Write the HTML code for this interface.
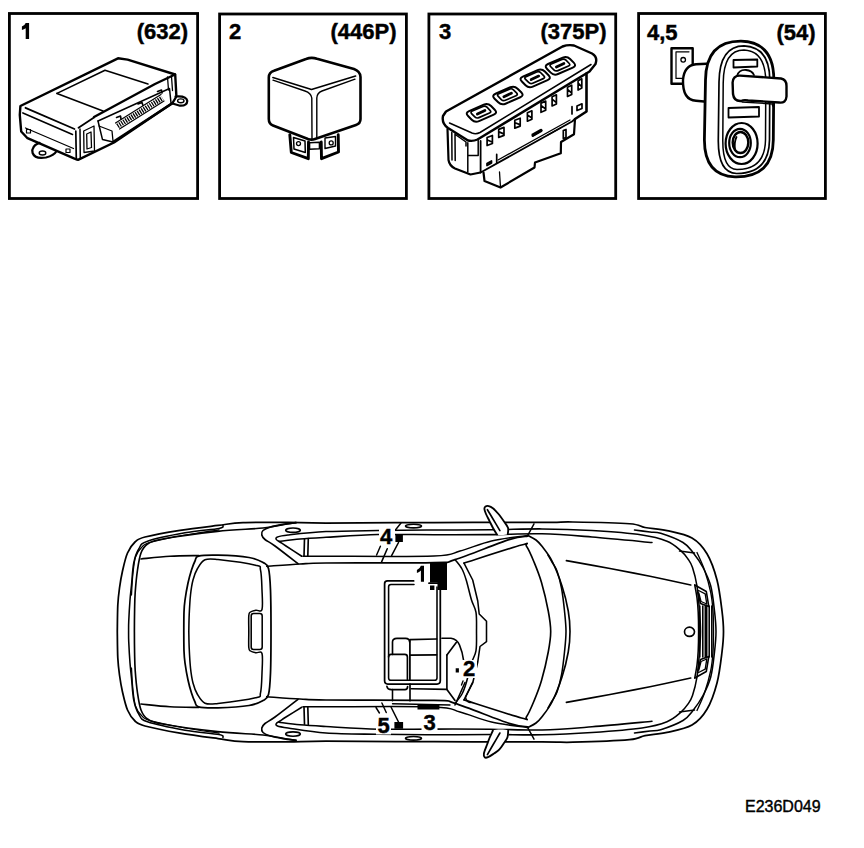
<!DOCTYPE html>
<html><head><meta charset="utf-8">
<style>
html,body{margin:0;padding:0;background:#fff;width:864px;height:848px;overflow:hidden}
svg{display:block}
.lb{font-family:"Liberation Sans",sans-serif;font-weight:bold;font-size:22px;fill:#000;stroke:#000;stroke-width:0.45px}
.cl{font-family:"Liberation Sans",sans-serif;font-weight:bold;font-size:22px;fill:#000;stroke:#000;stroke-width:0.45px}
.ft{font-family:"Liberation Sans",sans-serif;font-size:16px;fill:#000;stroke:#000;stroke-width:0.4px}
</style></head><body>
<svg width="864" height="848" viewBox="0 0 864 848">
<g fill="none" stroke="#000" stroke-width="2.8">
<rect x="9.4" y="13.5" width="188.2" height="185"/>
<rect x="219.6" y="14" width="186.8" height="184.5"/>
<rect x="428.9" y="14" width="186.8" height="184.5"/>
<rect x="638.6" y="13.5" width="186.8" height="185"/>
</g>
<path fill="#000" d="M25.7,23 L29.1,23 L29.1,38.9 L25.7,38.9 L25.7,28.3 Q24,29.5 21.9,29.9 L21.9,26.4 Q24.8,25.4 25.7,23 Z"/>
<text class="lb" x="188" y="38.9" text-anchor="end">(632)</text>
<text class="lb" x="229" y="38.9">2</text>
<text class="lb" x="396.5" y="38.9" text-anchor="end">(446P)</text>
<text class="lb" x="439" y="38.9">3</text>
<text class="lb" x="606.5" y="38.9" text-anchor="end">(375P)</text>
<text class="lb" x="647" y="39.9">4,5</text>
<text class="lb" x="815.5" y="39.9" text-anchor="end">(54)</text>
<g fill="none" stroke="#000" stroke-linejoin="round" stroke-linecap="round">
<!-- ===== ECU (box 1) ===== -->
<path stroke-width="2.4" d="M20.4,106 L118,58.3 L127.6,59.6 L175.2,74.5 L176.4,96.5 L172.5,103 L114,142.5 L78,159.8 L74.5,158.6 L27.5,138.2 L21.2,131.5 L19.8,115 Z"/>
<!-- right tab -->
<path stroke-width="2.2" d="M175.5,96.5 Q186.5,95.5 187.3,101 Q187,106 180,105.7 L172.5,103.5"/>
<ellipse cx="180.8" cy="100.8" rx="3.2" ry="1.9" stroke-width="1.4"/>
<!-- left tab -->
<path stroke-width="2.2" d="M39.5,142.8 Q31,146 32.6,153 Q35,159.5 46,157.5 Q54,155.5 56.5,151.3"/>
<ellipse cx="42.5" cy="153" rx="3.3" ry="2" stroke-width="1.4"/>
<!-- top face front edge -->
<path stroke-width="1.8" d="M25.5,107.8 L74.5,129 M78.5,127.8 L94,117.5"/>
<path stroke-width="1.6" d="M22.9,112.9 L72.5,134.5"/>
<!-- label panel -->
<path stroke-width="1.6" d="M57,93.4 L105,70.3 L148,84"/>
<path stroke-width="1.6" d="M57,93.4 L103,111"/>
<!-- vertical front edge -->
<path stroke-width="1.7" d="M75.8,131 L76.3,159.5"/>
<path stroke-width="1.5" d="M80,129 L80.3,158.5"/>
<!-- left face inner lines -->
<path stroke-width="1.3" d="M25.5,128 L73.5,148.5"/>
<rect x="26.5" y="129.5" width="4" height="3.5" stroke-width="1.2"/>
<rect x="66" y="149" width="4" height="3.5" stroke-width="1.2"/>
<!-- connector block -->
<path stroke-width="2.4" d="M94,117 L155,84 L175,74.5"/>
<path stroke-width="1.5" d="M98,121 L169.5,88.5 L171,103"/>
<path stroke-width="1.5" d="M98,121 L102.5,139.6 L113,142"/>
<path stroke-width="2.6" d="M113,142 L172,103.5"/>
<path stroke-width="1.3" d="M99,126 L112,131 L113,141"/>
<path stroke-width="1.3" d="M83.7,131 L94,126 L94.5,151 L84,152.5 Z"/>
<path stroke-width="1.3" d="M86.7,134 L91,132 L91.5,147.5 L87,149 Z"/>
<path stroke-width="1.3" d="M167.5,77 L168.5,90 M171.5,76.5 L172.5,90.5"/>
<path stroke-width="5" stroke-dasharray="1.3 1.1" stroke-linecap="butt" d="M117.5,126 L162.5,98"/>
<path stroke-width="1.2" d="M115.5,123 L161,94.5 M119.5,129 L164,101"/>
<path stroke-width="1.6" d="M116.5,117.5 L120.5,116 L121,119 M138,104 L142,102.5 L143,105.5 M157.5,91.5 L161.5,90 L162,93"/>
<!-- ===== RELAY (box 2) ===== -->
<path stroke-width="2.6" d="M306,59 Q311.5,56.8 317,58.8 L354,69 Q360.5,71.5 360.5,77 L360.5,119 Q360.5,123.5 356,125 L315,139 Q311.5,140.2 308,139 L273,125.5 Q268.8,123.8 268.8,119 L268.8,77.5 Q268.8,72.5 274,70.8 Z"/>
<path stroke-width="1.6" d="M272.9,77.5 L311.5,89.5 L355.6,76"/>
<path stroke-width="1.4" d="M273,80.2 L305,91 Q311,93 311.8,98 L312,138.5"/>
<path stroke-width="1.4" d="M355,79.2 L322,91 Q317,93 316.8,98 L316.8,138.5"/>
<path stroke-width="2.9" d="M289.8,134.6 L291.3,152.5 L308.3,158.7 L308.5,142"/>
<path stroke-width="1.5" d="M293.5,137.5 L305,141 L305.3,152.5 L294,149 Z"/>
<circle cx="298.5" cy="143.6" r="2" stroke-width="1.3"/>
<path stroke-width="2.9" d="M321.2,142 L321.5,158.7 L338.5,152 L338.2,134.8"/>
<path stroke-width="1.4" d="M325,148.5 L325,138 L335.5,136.5 L335.5,146 Z"/>
<circle cx="331.2" cy="142.9" r="2" stroke-width="1.3"/>
<path stroke-width="1.6" d="M309.5,142.8 L319.5,142.2 L319.5,148.8 L309.5,149.2 Z"/>
<!-- ===== SWITCH (box 3) ===== -->
<path stroke-width="2.4" d="M446,111.5 L562.5,46.5 Q568,44.5 574,45.5 L592,53.5 Q598,57 595.5,64 L589.5,71.5 L477.5,139.5 Q473,141.5 468,140.5 L448,128 Q441.5,123.5 443,116 Z"/>
<path stroke-width="1.5" d="M449.5,123 L472,133 Q476,134.5 480,132.5 L591,64.5"/>
<!-- buttons -->
<path stroke-width="2" d="M469.03,111.06 L483.77,104.64 Q487.90,102.85 491.08,106.03 L494.72,109.67 Q497.90,112.85 493.77,114.64 L479.03,121.06 Q474.90,122.85 471.72,119.67 L468.08,116.03 Q464.90,112.85 469.03,111.06 Z"/>
<path stroke-width="1.7" d="M472.30,111.05 L482.90,106.45 Q485.19,105.45 486.96,107.22 L490.02,110.28 Q491.79,112.05 489.50,113.05 L478.90,117.65 Q476.61,118.65 474.84,116.88 L471.78,113.82 Q470.01,112.05 472.30,111.05 Z"/>
<path stroke-width="2.8" d="M477.40,114.05 L484.90,110.55"/>
<path stroke-width="2" d="M495.53,93.71 L510.27,87.29 Q514.40,85.50 517.58,88.68 L521.22,92.32 Q524.40,95.50 520.27,97.29 L505.53,103.71 Q501.40,105.50 498.22,102.32 L494.58,98.68 Q491.40,95.50 495.53,93.71 Z"/>
<path stroke-width="1.7" d="M498.80,93.70 L509.40,89.10 Q511.69,88.10 513.46,89.87 L516.52,92.93 Q518.29,94.70 516.00,95.70 L505.40,100.30 Q503.11,101.30 501.34,99.53 L498.28,96.47 Q496.51,94.70 498.80,93.70 Z"/>
<path stroke-width="2.8" d="M503.90,96.70 L511.40,93.20"/>
<path stroke-width="2" d="M522.83,76.61 L537.57,70.19 Q541.70,68.40 544.88,71.58 L548.52,75.22 Q551.70,78.40 547.57,80.19 L532.83,86.61 Q528.70,88.40 525.52,85.22 L521.88,81.58 Q518.70,78.40 522.83,76.61 Z"/>
<path stroke-width="1.7" d="M526.10,76.60 L536.70,72.00 Q538.99,71.00 540.76,72.77 L543.82,75.83 Q545.59,77.60 543.30,78.60 L532.70,83.20 Q530.41,84.20 528.64,82.43 L525.58,79.37 Q523.81,77.60 526.10,76.60 Z"/>
<path stroke-width="2.8" d="M531.20,79.60 L538.70,76.10"/>
<path stroke-width="2" d="M548.03,64.01 L562.77,57.59 Q566.90,55.80 570.08,58.98 L573.72,62.62 Q576.90,65.80 572.77,67.59 L558.03,74.01 Q553.90,75.80 550.72,72.62 L547.08,68.98 Q543.90,65.80 548.03,64.01 Z"/>
<path stroke-width="1.7" d="M551.30,64.00 L561.90,59.40 Q564.19,58.40 565.96,60.17 L569.02,63.23 Q570.79,65.00 568.50,66.00 L557.90,70.60 Q555.61,71.60 553.84,69.83 L550.78,66.77 Q549.01,65.00 551.30,64.00 Z"/>
<path stroke-width="2.8" d="M556.40,67.00 L563.90,63.50"/>
<!-- body -->
<path stroke-width="2.2" d="M447.5,129 L448.5,160 Q449.5,166 455,168.5 L470.5,174.5 L480.5,172.5"/>
<path stroke-width="1.8" d="M480.6,141 L480.6,172.5 L572,121.5 L575,119"/>
<path stroke-width="2.6" d="M575,119 L586.5,111.5 L586.5,73.5"/>
<path stroke-width="2.2" d="M483.5,172.5 L484.5,181 L500.5,187.5 L534.5,167.5 L535,162.5 L560.8,153.2 L561,142 L574,134.3 L575,119"/>
<path stroke-width="1.3" d="M500.5,187.5 L499.5,172"/>
<path stroke-width="1.5" d="M451.8,132.5 L452,160 M455,134 L455.2,160.5 M456,135 L466,142 L466,146"/>
<path stroke-width="1.5" d="M467.8,142.8 L467.8,172 M467.8,155.5 L478.2,155.5 L478.2,140.5"/>
<path stroke-width="1.3" d="M498,160 L570,120 M547,135.5 L560.5,128"/>
<!-- slots -->
<g stroke-width="1.7">
<path d="M487.1,137.5 L492.4,135.5 L492.4,143.5 L487.1,145.5 Z M487.4,140.0 L492.1,142.0"/>
<path d="M498.7,129.4 L504.0,127.4 L504.0,135.4 L498.7,137.4 Z M499.0,131.9 L503.7,133.9"/>
<path d="M514.8,120.2 L520.2,118.2 L520.2,126.1 L514.8,128.1 Z M515.1,122.7 L519.9,124.6"/>
<path d="M527.4,112.8 L531.9,110.8 L531.9,119.2 L527.4,121.2 Z M527.7,115.3 L531.6,117.7"/>
<path d="M541.0,103.1 L545.7,101.1 L545.7,110.3 L541.0,112.3 Z M541.3,105.6 L545.4,108.8"/>
<path d="M552.1,96.8 L556.4,94.8 L556.4,103.9 L552.1,105.9 Z M552.4,99.3 L556.1,102.4"/>
<path d="M567.5,87.2 L571.7,85.2 L571.7,94.4 L567.5,96.4 Z M567.8,89.7 L571.4,92.9"/>
<path d="M578.1,80.8 L581.8,78.8 L581.8,88.0 L578.1,90.0 Z M578.4,83.3 L581.5,86.5"/>
<path d="M532.5,136 L541.5,130.5"/>
<path stroke-width="3.2" d="M533,135 L541,130.5"/>
<path d="M563.3,130.5 L566,129.5 L566,137.5 L563.3,138.5 Z"/>
<path d="M577,106 L582,103.8 L582,108.5 L577,110.5 Z"/>
<path d="M487,163.5 L491.5,161 L491.5,163 L487,165.5 Z"/>
<path d="M572,106.7 L572,114 M496.7,154.4 L496.7,162.5"/>
</g>
<!-- ===== DOOR SWITCH (box 4) ===== -->
<!-- left tab -->
<path stroke-width="2.4" d="M692.7,64 L692.7,48.3 L671.5,48.3 L671.5,83.7 L684,83.7"/>
<path stroke-width="1.2" d="M676,51.8 L689,51.8 M676,51.8 L676,78.4 L683.5,78.4"/>
<circle cx="683.2" cy="59.8" r="2.3" stroke-width="1.3"/>
<!-- plunger -->
<path stroke-width="2.4" fill="#fff" d="M712,63.5 L696,64.2 Q684,65.5 683,80 Q682.5,100 696,100.8 L712,102.3 Z"/>
<path stroke-width="2.8" fill="#fff" d="M741,41.2 Q774,42 773.8,80 L773.3,140 Q773,177.5 735,176.8 Q704.5,176 704.4,140 L705.5,80 Q706,41 741,41.2 Z"/>
<path stroke-width="1.7" d="M744,45.8 Q770.5,47 769.8,82 L769.5,140 Q769,173.5 736.5,173.5 Q718,173 718.3,140 L719,82 Q719.5,46 744,45.8 Z"/>
<path stroke-width="1.5" d="M744,50 Q766,51 765.8,83 L765.5,140 Q765,169.5 737,169.5 Q722.5,169 722.8,140 L723.2,83 Q723.5,50 744,50 Z"/>
<!-- slots -->
<path stroke-width="1.8" d="M733.5,60 L757.3,59.5 L757.3,66.5 L733.5,67.5 Z"/>
<path stroke-width="1.8" d="M728.5,108 L759,107 L759,116.5 L728.5,117.5 Z"/>
<!-- lever -->
<path stroke-width="1.8" d="M737,76 Q739,69.5 746,70 Q752,70.5 754,75"/>
<path stroke-width="2.4" fill="#fff" d="M740,75.6 L781,78.5 Q786.5,79.5 786.5,86 L786.5,96.5 Q786,103.5 779,102.5 L748,100.5 Q744,99.5 741,101 Q734,101.5 733,94 L732.6,82.5 Q733,75.5 740,75.6 Z"/>
<path stroke-width="1.3" d="M742,102 L772.5,104 L772.5,106"/>
<!-- lock cylinder -->
<ellipse cx="741.6" cy="143.5" rx="16" ry="20.5" stroke-width="2.2"/>
<ellipse cx="740" cy="143" rx="10.8" ry="14.2" stroke-width="2.2"/>
<ellipse cx="740.5" cy="142.5" rx="7.8" ry="10.5" stroke-width="2.4"/>
<path stroke-width="1.8" d="M736.5,137 Q734,142 735,150"/>
</g>

<g fill="none" stroke="#000" stroke-linecap="round" stroke-linejoin="round">
<path d="M117.30,631.50 C117.38,627.08 117.43,612.25 117.80,605.00 C118.17,597.75 118.72,593.67 119.50,588.00 C120.28,582.33 121.17,576.83 122.50,571.00 C123.83,565.17 125.42,557.83 127.50,553.00 C129.58,548.17 132.08,544.67 135.00,542.00 C137.92,539.33 137.50,538.95 145.00,537.00 C152.50,535.05 167.83,532.23 180.00,530.30 C192.17,528.37 207.50,526.68 218.00,525.40 C228.50,524.12 231.33,523.10 243.00,522.60 C254.67,522.10 274.17,522.33 288.00,522.40 C301.83,522.47 301.67,522.98 326.00,523.00 C350.33,523.02 398.00,522.60 434.00,522.50 C470.00,522.40 518.83,522.48 542.00,522.40 C565.17,522.32 558.42,521.77 573.00,522.00 C587.58,522.23 617.50,522.83 629.50,523.75 C641.50,524.67 638.75,526.36 645.00,527.50 C651.25,528.64 659.17,528.85 667.00,530.60 C674.83,532.35 685.33,534.14 692.00,538.00 C698.67,541.86 702.83,546.75 707.00,553.75 C711.17,560.75 714.50,570.46 717.00,580.00 C719.50,589.54 720.92,602.42 722.00,611.00 C723.08,619.58 723.50,624.67 723.50,631.50 C723.50,638.33 723.08,643.42 722.00,652.00 C720.92,660.58 719.50,673.46 717.00,683.00 C714.50,692.54 711.17,702.25 707.00,709.25 C702.83,716.25 698.67,721.14 692.00,725.00 C685.33,728.86 674.83,730.64 667.00,732.40 C659.17,734.16 651.25,734.39 645.00,735.59 C638.75,736.79 641.50,738.50 629.50,739.60 C617.50,740.70 587.58,741.83 573.00,742.20 C558.42,742.57 565.17,741.88 542.00,741.80 C518.83,741.72 470.00,741.80 434.00,741.70 C398.00,741.60 350.33,741.18 326.00,741.20 C301.67,741.22 301.83,741.73 288.00,741.80 C274.17,741.87 254.67,742.13 243.00,741.60 C231.33,741.07 228.50,740.03 218.00,738.62 C207.50,737.21 192.17,735.25 180.00,733.15 C167.83,731.05 152.50,728.02 145.00,726.00 C137.50,723.98 137.92,723.67 135.00,721.00 C132.08,718.33 129.58,714.83 127.50,710.00 C125.42,705.17 123.83,697.83 122.50,692.00 C121.17,686.17 120.28,680.67 119.50,675.00 C118.72,669.33 118.17,665.25 117.80,658.00 C117.43,650.75 117.38,635.92 117.30,631.50" stroke-width="1.75"/>
<path d="M223.00,737.50 C222.33,737.02 225.33,735.82 219.00,734.60 C212.67,733.38 196.92,732.33 185.00,730.20 C173.08,728.07 155.21,724.50 147.50,721.80 C139.79,719.10 141.04,717.63 138.75,714.00 C136.46,710.37 134.96,706.00 133.75,700.00 C132.54,694.00 132.12,684.17 131.50,678.00 C130.88,671.83 130.46,669.00 130.00,663.00 C129.54,657.00 128.98,647.25 128.75,642.00 C128.52,636.75 128.60,635.00 128.60,631.50 C128.60,628.00 128.52,626.25 128.75,621.00 C128.98,615.75 129.54,606.00 130.00,600.00 C130.46,594.00 130.88,591.17 131.50,585.00 C132.12,578.83 132.54,569.00 133.75,563.00 C134.96,557.00 136.46,552.63 138.75,549.00 C141.04,545.37 139.79,543.90 147.50,541.20 C155.21,538.50 173.08,534.93 185.00,532.80 C196.92,530.67 212.67,529.62 219.00,528.40 C225.33,527.18 222.33,525.98 223.00,525.50" stroke-width="1.55"/>
<path d="M131.50,595.00 C131.72,591.67 132.13,581.33 132.80,575.00 C133.47,568.67 134.05,561.58 135.50,557.00 C136.95,552.42 139.08,549.92 141.50,547.50 C143.92,545.08 142.75,544.58 150.00,542.50 C157.25,540.42 173.50,537.12 185.00,535.00 C196.50,532.88 213.33,530.67 219.00,529.80" stroke-width="1.25"/>
<path d="M131.50,668.00 C131.72,671.33 132.13,681.67 132.80,688.00 C133.47,694.33 134.05,701.42 135.50,706.00 C136.95,710.58 139.08,713.08 141.50,715.50 C143.92,717.92 142.75,718.42 150.00,720.50 C157.25,722.58 173.50,725.88 185.00,728.00 C196.50,730.12 213.33,732.33 219.00,733.20" stroke-width="1.25"/>
<path d="M296.00,740.40 C294.00,740.08 289.50,739.40 284.00,738.50 C278.50,737.60 274.08,736.15 263.00,735.00 C251.92,733.85 234.25,733.43 217.50,731.60 C200.75,729.77 174.17,726.10 162.50,724.00 C150.83,721.90 151.08,721.33 147.50,719.00 C143.92,716.67 142.67,714.33 141.00,710.00 C139.33,705.67 138.47,699.58 137.50,693.00 C136.53,686.42 135.68,677.17 135.20,670.50 C134.72,663.83 134.73,659.50 134.60,653.00 C134.47,646.50 134.40,638.67 134.40,631.50 C134.40,624.33 134.47,616.50 134.60,610.00 C134.73,603.50 134.72,599.17 135.20,592.50 C135.68,585.83 136.53,576.58 137.50,570.00 C138.47,563.42 139.33,557.33 141.00,553.00 C142.67,548.67 143.92,546.33 147.50,544.00 C151.08,541.67 150.83,541.10 162.50,539.00 C174.17,536.90 200.75,533.23 217.50,531.40 C234.25,529.57 251.92,529.15 263.00,528.00 C274.08,526.85 278.50,525.40 284.00,524.50 C289.50,523.60 294.00,522.92 296.00,522.60" stroke-width="1.65"/>
<path d="M183.80,631.50 C183.83,628.25 183.80,617.25 184.00,612.00 C184.20,606.75 184.33,604.83 185.00,600.00 C185.67,595.17 186.92,588.00 188.00,583.00 C189.08,578.00 190.33,573.67 191.50,570.00 C192.67,566.33 193.83,563.30 195.00,561.00 C196.17,558.70 194.67,557.17 198.50,556.20 C202.33,555.23 209.58,554.98 218.00,555.20 C226.42,555.42 241.50,556.28 249.00,557.50 C256.50,558.72 259.75,560.67 263.00,562.50 C266.25,564.33 267.25,563.92 268.50,568.50 C269.75,573.08 270.08,579.50 270.50,590.00 C270.92,600.50 271.00,617.67 271.00,631.50 C271.00,645.33 270.92,662.50 270.50,673.00 C270.08,683.50 269.75,689.92 268.50,694.50 C267.25,699.08 266.25,698.67 263.00,700.50 C259.75,702.33 256.50,704.28 249.00,705.50 C241.50,706.72 226.42,707.58 218.00,707.80 C209.58,708.02 202.33,707.77 198.50,706.80 C194.67,705.83 196.17,704.30 195.00,702.00 C193.83,699.70 192.67,696.67 191.50,693.00 C190.33,689.33 189.08,685.00 188.00,680.00 C186.92,675.00 185.67,667.83 185.00,663.00 C184.33,658.17 184.20,656.25 184.00,651.00 C183.80,645.75 183.83,634.75 183.80,631.50" stroke-width="1.75"/>
<path d="M141.00,559.00 C145.83,558.55 160.33,556.87 170.00,556.30 C179.67,555.73 194.17,555.72 199.00,555.60" stroke-width="1.65"/>
<path d="M141.00,704.00 C145.83,704.45 160.33,706.13 170.00,706.70 C179.67,707.27 194.17,707.28 199.00,707.40" stroke-width="1.65"/>
<path d="M188.80,631.50 C188.87,628.75 188.92,621.08 189.20,615.00 C189.48,608.92 189.87,600.83 190.50,595.00 C191.13,589.17 191.83,584.42 193.00,580.00 C194.17,575.58 195.50,571.87 197.50,568.50 C199.50,565.13 201.58,561.28 205.00,559.80 C208.42,558.32 209.58,558.70 218.00,559.60 C226.42,560.50 248.42,563.47 255.50,565.20 C262.58,566.93 259.42,565.87 260.50,570.00 C261.58,574.13 261.75,583.42 262.00,590.00 C262.25,596.58 263.00,606.13 262.00,609.50 C261.00,612.87 257.92,609.78 256.00,610.20 C254.08,610.62 251.70,611.12 250.50,612.00 C249.30,612.88 249.08,612.25 248.80,615.50 C248.52,618.75 248.80,626.17 248.80,631.50 C248.80,636.83 248.52,644.25 248.80,647.50 C249.08,650.75 249.30,650.12 250.50,651.00 C251.70,651.88 254.08,652.38 256.00,652.80 C257.92,653.22 261.00,650.13 262.00,653.50 C263.00,656.87 262.25,666.42 262.00,673.00 C261.75,679.58 261.58,688.87 260.50,693.00 C259.42,697.13 262.58,696.07 255.50,697.80 C248.42,699.53 226.42,702.50 218.00,703.40 C209.58,704.30 208.42,704.68 205.00,703.20 C201.58,701.72 199.50,697.87 197.50,694.50 C195.50,691.13 194.17,687.42 193.00,683.00 C191.83,678.58 191.13,673.83 190.50,668.00 C189.87,662.17 189.48,654.08 189.20,648.00 C188.92,641.92 188.87,634.25 188.80,631.50" stroke-width="1.55"/>
<path d="M253.5,613.5 L259.8,613.5 Q262.2,613.5 262.2,616 L262.2,647 Q262.2,649.5 259.8,649.5 L253.5,649.5 Q251.2,649.5 251.2,647 L251.2,616 Q251.2,613.5 253.5,613.5 Z" stroke-width="1.55"/>
<path d="M296.00,522.60 C293.83,522.90 287.25,523.67 283.00,524.40 C278.75,525.13 273.83,525.98 270.50,527.00 C267.17,528.02 264.45,529.17 263.00,530.50 C261.55,531.83 261.47,533.50 261.80,535.00 C262.13,536.50 262.80,537.67 265.00,539.50 C267.20,541.33 269.50,541.97 275.00,546.00 C280.50,550.03 294.17,560.75 298.00,563.70" stroke-width="1.65"/>
<path d="M296.00,740.40 C293.83,740.10 287.25,739.33 283.00,738.60 C278.75,737.87 273.83,737.02 270.50,736.00 C267.17,734.98 264.45,733.83 263.00,732.50 C261.55,731.17 261.47,729.50 261.80,728.00 C262.13,726.50 262.80,725.33 265.00,723.50 C267.20,721.67 269.50,721.03 275.00,717.00 C280.50,712.97 294.17,702.25 298.00,699.30" stroke-width="1.65"/>
<path d="M301.75,556.25 C299.12,554.54 289.62,548.38 286.00,546.00 C282.38,543.62 281.62,543.08 280.00,542.00 C278.38,540.92 276.72,540.33 276.30,539.50 C275.88,538.67 275.55,537.75 277.50,537.00 C279.45,536.25 279.92,535.90 288.00,535.00 C296.08,534.10 311.00,532.35 326.00,531.60 C341.00,530.85 360.00,530.77 378.00,530.50 C396.00,530.23 415.08,530.12 434.00,530.00 C452.92,529.88 473.50,529.98 491.50,529.80 C509.50,529.62 525.25,528.77 542.00,528.90 C558.75,529.03 575.33,529.58 592.00,530.60 C608.67,531.62 629.50,533.23 642.00,535.00 C654.50,536.77 660.54,538.65 667.00,541.25 C673.46,543.85 677.25,547.64 680.75,550.60 C684.25,553.56 686.04,556.18 688.00,559.00 C689.96,561.82 691.00,563.00 692.50,567.50 C694.00,572.00 695.83,578.75 697.00,586.00 C698.17,593.25 698.92,603.42 699.50,611.00 C700.08,618.58 700.50,624.67 700.50,631.50 C700.50,638.33 700.08,644.42 699.50,652.00 C698.92,659.58 698.17,669.75 697.00,677.00 C695.83,684.25 694.00,691.00 692.50,695.50 C691.00,700.00 689.96,701.18 688.00,704.00 C686.04,706.82 684.25,709.44 680.75,712.40 C677.25,715.36 673.46,719.15 667.00,721.75 C660.54,724.35 654.50,726.21 642.00,728.00 C629.50,729.79 608.67,731.36 592.00,732.50 C575.33,733.63 558.75,734.46 542.00,734.80 C525.25,735.13 509.50,734.50 491.50,734.50 C473.50,734.50 452.92,734.83 434.00,734.80 C415.08,734.77 396.00,734.60 378.00,734.30 C360.00,734.00 341.00,734.07 326.00,733.02 C311.00,731.97 296.08,729.17 288.00,728.00 C279.92,726.83 279.45,726.75 277.50,726.00 C275.55,725.25 275.88,724.33 276.30,723.50 C276.72,722.67 278.38,722.08 280.00,721.00 C281.62,719.92 282.38,719.29 286.00,717.00 C289.62,714.71 299.12,708.90 301.75,707.28" stroke-width="1.55"/>
<path d="M279.00,541.50 C282.50,541.08 292.17,539.70 300.00,539.00 C307.83,538.30 313.00,538.03 326.00,537.30 C339.00,536.57 360.00,535.03 378.00,534.60 C396.00,534.17 415.33,534.70 434.00,534.70 C452.67,534.70 472.00,534.75 490.00,534.60 C508.00,534.45 525.00,533.40 542.00,533.80 C559.00,534.20 573.67,535.55 592.00,537.00 C610.33,538.45 642.00,541.58 652.00,542.50" stroke-width="1.55"/>
<path d="M279.00,722.30 C282.50,722.72 292.17,724.10 300.00,724.80 C307.83,725.50 313.00,725.77 326.00,726.50 C339.00,727.23 360.00,728.77 378.00,729.20 C396.00,729.63 415.33,729.10 434.00,729.10 C452.67,729.10 472.00,729.05 490.00,729.20 C508.00,729.35 525.00,730.40 542.00,730.00 C559.00,729.60 573.67,728.25 592.00,726.80 C610.33,725.35 642.00,722.22 652.00,721.30" stroke-width="1.55"/>
<path d="M303.00,556.20 C306.83,556.20 304.17,556.23 326.00,556.20 C347.83,556.17 411.67,556.87 434.00,556.00 C456.33,555.13 450.42,553.50 460.00,551.00 C469.58,548.50 480.33,543.58 491.50,541.00 C502.67,538.42 521.08,536.42 527.00,535.50" stroke-width="1.55"/>
<path d="M303.00,706.80 C306.83,706.80 304.17,706.77 326.00,706.80 C347.83,706.83 411.67,706.13 434.00,707.00 C456.33,707.87 450.42,709.50 460.00,712.00 C469.58,714.50 480.33,719.42 491.50,722.00 C502.67,724.58 521.08,726.58 527.00,727.50" stroke-width="1.55"/>
<path d="M534.00,523.80 L527.75,535.30" stroke-width="1.45"/>
<path d="M534.00,739.20 L527.75,727.70" stroke-width="1.45"/>
<path d="M527.75,535.30 C529.12,536.08 533.62,538.17 536.00,540.00 C538.38,541.83 539.33,542.80 542.00,546.30 C544.67,549.80 548.67,554.38 552.00,561.00 C555.33,567.62 559.29,577.67 562.00,586.00 C564.71,594.33 566.92,603.42 568.25,611.00 C569.58,618.58 570.00,624.67 570.00,631.50 C570.00,638.33 569.58,644.42 568.25,652.00 C566.92,659.58 564.71,668.67 562.00,677.00 C559.29,685.33 555.33,695.38 552.00,702.00 C548.67,708.62 544.67,713.20 542.00,716.70 C539.33,720.20 538.38,721.17 536.00,723.00 C533.62,724.83 529.12,726.92 527.75,727.70" stroke-width="1.65"/>
<path d="M548.00,555.00 C548.67,556.17 550.50,559.33 552.00,562.00 C553.50,564.67 555.42,566.67 557.00,571.00 C558.58,575.33 560.25,581.33 561.50,588.00 C562.75,594.67 563.75,603.75 564.50,611.00 C565.25,618.25 566.00,624.67 566.00,631.50 C566.00,638.33 565.25,644.75 564.50,652.00 C563.75,659.25 562.75,668.33 561.50,675.00 C560.25,681.67 558.58,687.67 557.00,692.00 C555.42,696.33 553.50,698.33 552.00,701.00 C550.50,703.67 548.67,706.83 548.00,708.00" stroke-width="1.55"/>
<path d="M464.00,563.10 C473.58,560.08 511.08,547.80 521.50,545.00 C531.92,542.20 524.42,543.47 526.50,546.30 C528.58,549.13 531.50,555.97 534.00,562.00 C536.50,568.03 539.12,574.33 541.50,582.50 C543.88,590.67 546.72,602.83 548.25,611.00 C549.78,619.17 550.70,624.67 550.70,631.50 C550.70,638.33 549.78,643.83 548.25,652.00 C546.72,660.17 543.88,672.33 541.50,680.50 C539.12,688.67 536.50,694.97 534.00,701.00 C531.50,707.03 528.58,713.87 526.50,716.70 C524.42,719.53 531.92,720.80 521.50,718.00 C511.08,715.20 473.58,702.92 464.00,699.90" stroke-width="1.65"/>
<path d="M266.75,566.30 C272.29,565.92 290.12,564.55 300.00,564.00 C309.88,563.45 303.67,563.23 326.00,563.00 C348.33,562.77 412.50,563.17 434.00,562.60 C455.50,562.03 442.50,563.43 455.00,559.60 C467.50,555.77 496.88,543.48 509.00,539.60 C521.12,535.72 524.62,536.85 527.75,536.30" stroke-width="1.65"/>
<path d="M266.75,696.70 C272.29,697.08 290.12,698.45 300.00,699.00 C309.88,699.55 303.67,699.77 326.00,700.00 C348.33,700.23 412.50,699.83 434.00,700.40 C455.50,700.97 442.50,699.57 455.00,703.40 C467.50,707.23 496.88,719.52 509.00,723.40 C521.12,727.28 524.62,726.15 527.75,726.70" stroke-width="1.65"/>
<path d="M455.00,559.60 C456.17,561.17 460.13,565.60 462.00,569.00 C463.87,572.40 464.62,574.83 466.20,580.00 C467.78,585.17 469.87,594.60 471.50,600.00 C473.13,605.40 475.17,607.15 476.00,612.40 C476.83,617.65 476.50,625.13 476.50,631.50 C476.50,637.87 476.83,645.35 476.00,650.60 C475.17,655.85 473.13,657.60 471.50,663.00 C469.87,668.40 467.78,677.83 466.20,683.00 C464.62,688.17 463.87,690.60 462.00,694.00 C460.13,697.40 456.17,701.83 455.00,703.40" stroke-width="1.55"/>
<path d="M464.00,563.10 L472.70,580.00 L477.75,601.00 L479.20,614.00 L486.50,621.30 L486.50,641.70 L480.00,646.50 L477.75,662.00 L472.70,683.00 L464.00,699.90" stroke-width="1.55"/>
<path d="M304.50,538.80 L304.00,556.20" stroke-width="1.65"/>
<path d="M304.50,724.20 L304.00,706.80" stroke-width="1.65"/>
<path d="M308.30,538.50 L307.80,556.20" stroke-width="1.65"/>
<path d="M308.30,724.50 L307.80,706.80" stroke-width="1.65"/>
<path d="M285.70,530.20 a7.30,2.20 0 1,0 14.60,0 a7.30,2.20 0 1,0 -14.60,0 Z" stroke-width="1.65"/>
<path d="M285.70,734.10 a7.30,2.20 0 1,0 14.60,0 a7.30,2.20 0 1,0 -14.60,0 Z" stroke-width="1.65"/>
<path d="M405.50,526.00 a8.00,1.80 0 1,0 16.00,0 a8.00,1.80 0 1,0 -16.00,0 Z" stroke-width="1.65"/>
<path d="M405.50,738.30 a8.00,1.80 0 1,0 16.00,0 a8.00,1.80 0 1,0 -16.00,0 Z" stroke-width="1.65"/>
<path d="M497.00,534.50 C494.53,533.50 494.27,530.28 493.00,528.00 C491.73,525.72 490.57,523.13 489.40,520.80 C488.23,518.47 486.83,515.97 486.00,514.00 C485.17,512.03 484.48,510.25 484.40,509.00 C484.32,507.75 484.77,506.98 485.50,506.50 C486.23,506.02 487.52,505.80 488.75,506.10 C489.98,506.40 491.27,506.98 492.90,508.30 C494.52,509.62 496.65,511.80 498.50,514.00 C500.35,516.20 502.42,519.20 504.00,521.50 C505.58,523.80 507.37,525.72 508.00,527.80 C508.63,529.88 509.63,532.88 507.80,534.00 C505.97,535.12 499.47,535.50 497.00,534.50 Z" fill="#fff" stroke="none"/>
<path d="M492.90,730.50 C489.78,731.75 490.45,735.72 489.50,738.00 C488.55,740.28 488.13,741.62 487.20,744.20 C486.27,746.78 484.32,751.32 483.90,753.50 C483.48,755.68 484.02,756.68 484.70,757.30 C485.38,757.92 486.45,757.83 488.00,757.20 C489.55,756.57 492.13,754.75 494.00,753.50 C495.87,752.25 497.53,751.45 499.20,749.70 C500.87,747.95 502.62,745.08 504.00,743.00 C505.38,740.92 506.80,739.28 507.50,737.20 C508.20,735.12 510.63,731.62 508.20,730.50 C505.77,729.38 496.02,729.25 492.90,730.50 Z" fill="#fff" stroke="none"/>
<path d="M497.00,534.50 C496.33,533.42 494.27,530.28 493.00,528.00 C491.73,525.72 490.57,523.13 489.40,520.80 C488.23,518.47 486.83,515.97 486.00,514.00 C485.17,512.03 484.48,510.25 484.40,509.00 C484.32,507.75 484.77,506.98 485.50,506.50 C486.23,506.02 487.52,505.80 488.75,506.10 C489.98,506.40 491.27,506.98 492.90,508.30 C494.52,509.62 496.65,511.80 498.50,514.00 C500.35,516.20 502.42,519.20 504.00,521.50 C505.58,523.80 507.37,525.72 508.00,527.80 C508.63,529.88 507.83,532.97 507.80,534.00" stroke-width="1.85"/>
<path d="M492.90,730.50 C492.33,731.75 490.45,735.72 489.50,738.00 C488.55,740.28 488.13,741.62 487.20,744.20 C486.27,746.78 484.32,751.32 483.90,753.50 C483.48,755.68 484.02,756.68 484.70,757.30 C485.38,757.92 486.45,757.83 488.00,757.20 C489.55,756.57 492.13,754.75 494.00,753.50 C495.87,752.25 497.53,751.45 499.20,749.70 C500.87,747.95 502.62,745.08 504.00,743.00 C505.38,740.92 506.80,739.28 507.50,737.20 C508.20,735.12 508.08,731.62 508.20,730.50" stroke-width="1.85"/>
<path d="M487.40,509.70 C488.33,511.25 490.92,515.52 493.00,519.00 C495.08,522.48 498.75,528.67 499.90,530.60" stroke-width="1.65"/>
<path d="M499.90,733.00 C498.83,734.83 495.58,740.40 493.50,744.00 C491.42,747.60 488.42,752.83 487.40,754.60" stroke-width="1.65"/>
<path d="M566.40,560.60 C573.67,561.92 596.07,565.88 610.00,568.50 C623.93,571.12 636.54,573.55 650.00,576.30 C663.46,579.05 683.96,583.55 690.75,585.00" stroke-width="1.65"/>
<path d="M566.40,702.40 C573.67,701.08 596.07,697.12 610.00,694.50 C623.93,691.88 636.54,689.45 650.00,686.70 C663.46,683.95 683.96,679.45 690.75,678.00" stroke-width="1.65"/>
<path d="M634.50,530.00 C637.08,530.33 645.62,531.45 650.00,532.00 C654.38,532.55 655.25,531.55 660.75,533.30 C666.25,535.05 677.62,539.30 683.00,542.50 C688.38,545.70 689.67,548.33 693.00,552.50 C696.33,556.67 700.04,561.92 703.00,567.50 C705.96,573.08 708.83,578.75 710.75,586.00 C712.67,593.25 713.62,603.42 714.50,611.00 C715.38,618.58 716.00,624.67 716.00,631.50 C716.00,638.33 715.38,644.42 714.50,652.00 C713.62,659.58 712.67,669.75 710.75,677.00 C708.83,684.25 705.96,689.92 703.00,695.50 C700.04,701.08 696.33,706.33 693.00,710.50 C689.67,714.67 688.38,717.30 683.00,720.50 C677.62,723.70 666.25,727.95 660.75,729.70 C655.25,731.45 654.38,730.45 650.00,731.00 C645.62,731.55 637.08,732.67 634.50,733.00" stroke-width="1.55"/>
<path d="M697.00,552.50 C698.25,555.42 702.21,563.33 704.50,570.00 C706.79,576.67 709.33,585.67 710.75,592.50 C712.17,599.33 712.54,604.50 713.00,611.00 C713.46,617.50 713.50,624.67 713.50,631.50 C713.50,638.33 713.46,645.50 713.00,652.00 C712.54,658.50 712.17,663.67 710.75,670.50 C709.33,677.33 706.79,686.33 704.50,693.00 C702.21,699.67 698.25,707.58 697.00,710.50" stroke-width="1.35"/>
<path d="M679.50,551.00 L694.50,553.00" stroke-width="1.55"/>
<path d="M679.50,712.00 L694.50,710.00" stroke-width="1.55"/>
<path d="M694.75,585.00 C695.12,587.17 696.42,593.50 697.00,598.00 C697.58,602.50 697.93,606.42 698.20,612.00 C698.47,617.58 698.60,625.00 698.60,631.50 C698.60,638.00 698.47,645.42 698.20,651.00 C697.93,656.58 697.58,660.50 697.00,665.00 C696.42,669.50 695.12,675.83 694.75,678.00" stroke-width="1.55"/>
<path d="M694.75,585.00 L706.30,591.50 L708.80,606.50 L700.50,603.50 L697.50,590.50" stroke-width="1.55"/>
<path d="M694.75,678.00 L706.30,671.50 L708.80,656.50 L700.50,659.50 L697.50,672.50" stroke-width="1.55"/>
<path d="M698.60,590.50 L705.20,593.80 L706.80,604.00 L701.00,601.50 L698.80,593.00" stroke-width="1.35"/>
<path d="M698.60,672.50 L705.20,669.20 L706.80,659.00 L701.00,661.50 L698.80,670.00" stroke-width="1.35"/>
<path d="M699.80,606 L699.80,657" stroke-width="1.55"/>
<path d="M702.80,606 L702.80,657" stroke-width="1.55"/>
<path d="M706.00,606 L706.00,657" stroke-width="2.95"/>
<path d="M709.20,606 L709.20,657" stroke-width="1.55"/>
<path d="M711.80,606 L711.80,657" stroke-width="1.55"/>
<path d="M684.5,631.8 a5,4.6 0 1,0 10,0 a5,4.6 0 1,0 -10,0 Z" stroke-width="1.65"/>
<path d="M414,580.9 L387.5,580.9 Q384.6,580.9 384.6,583.8 L384.6,680.5 Q384.6,684 387.8,684 L437,684 Q440.3,684 440.3,680.5 L440.3,586 Q440.3,583.2 437.5,583.2 L429,583.2" stroke-width="1.75"/>
<path d="M414,584.4 L391,584.4 Q388.6,584.4 388.6,586.8 L388.6,678 Q388.6,680.3 391,680.3 L434.5,680.3 Q437,680.3 437,678 L437,587" stroke-width="1.55"/>
<path d="M391,654.4 L404.8,654.4 Q407.4,654.4 407.4,657 L407.4,679.4 M388.6,657 Q388.6,654.4 391,654.4" stroke-width="1.65"/>
<path d="M392.5,654.5 L392.5,642 Q392.5,638.3 397,638.3 L405.5,638.3 Q409.6,638.3 409.6,642" stroke-width="1.65"/>
<path d="M410,639.6 L436.5,639" stroke-width="1.75"/>
<path d="M410.5,655.2 L436.5,654.8" stroke-width="1.75"/>
<path d="M409.9,640 L409.9,680" stroke-width="1.75"/>
<path d="M410,684 L410,700.8" stroke-width="1.65"/>
<path d="M386.9,686.4 Q387.5,689.6 391.5,689.6 L405,689.6 Q407.5,689.6 407.6,686.6" stroke-width="1.65"/>
<path d="M392.5,689.4 L392.5,700.8" stroke-width="1.55"/>
<path d="M411.2,688.8 L446.9,689.4" stroke-width="1.65"/>
<path d="M446.9,655 L446.9,689.4 L455,700.5" stroke-width="1.65"/>
<path d="M446.9,655 L456.25,642.5" stroke-width="1.65"/>
<path d="M441.9,638.2 L451,638.2 Q457,639 459.5,645 Q462.5,652 463.6,660.5" stroke-width="1.65"/>
<path d="M465,682.5 L455,705" stroke-width="1.55"/>
<path d="M472.5,682.5 L465.5,697 Q466,701.5 470,702.6" stroke-width="1.55"/>
<path d="M463,681 L461.5,685" stroke-width="1.35"/>
<path d="M376,707.5 L379.4,713" stroke-width="1.45"/>
<path d="M381.9,703 L386.25,712.5" stroke-width="1.45"/>
<path d="M391.25,707.5 L400,725" stroke-width="1.55"/>
<path d="M392.5,703.75 L450,705" stroke-width="1.35"/>
<path d="M380.4,546.25 L376.6,555" stroke-width="1.45"/>
<path d="M387.25,548.75 L381.6,561.9" stroke-width="1.55"/>
<path d="M398.5,542.5 L391.6,555.6" stroke-width="1.55"/>
<path d="M401,523 L395.4,530" stroke-width="1.45"/>
</g>
<g fill="#fff" stroke="none">
<rect x="379" y="526" width="16" height="19"/>
<rect x="414.5" y="564" width="13" height="19"/>
<rect x="376" y="716" width="15" height="18.5"/>
<rect x="421.5" y="712" width="16" height="19"/>
<rect x="462" y="660" width="15" height="18"/>
</g>
<path fill="#000" d="M430,563 L447,563 L447,590 L437.5,590 L437.5,582.5 L430,582.5 Z M430,585.6 L434.4,585.6 L434.4,590 L430,590 Z M395.4,535 L402.9,535 L402.9,541.9 L395.4,541.9 Z M417.5,705 L439.4,705 L439.4,709.4 L417.5,709.4 Z M394.4,721.9 L403.1,721.9 L403.1,728.8 L394.4,728.8 Z M455.7,668.3 L458.9,668.3 L458.9,672.4 L455.7,672.4 Z"/>
<text class="cl" x="380" y="543.8">4</text>
<path fill="#000" d="M420.9,565.8 L424,565.8 L424,581.75 L420.9,581.75 L420.9,570.6 Q419.3,572.4 416.9,572.9 L416.9,570.1 Q419.8,568.9 420.9,565.8 Z"/>
<text class="cl" x="463" y="676.4">2</text>
<text class="cl" x="377.5" y="732.9">5</text>
<text class="cl" x="423.5" y="729.6">3</text>
<text class="ft" x="745" y="812">E236D049</text>
</svg>
</body></html>
